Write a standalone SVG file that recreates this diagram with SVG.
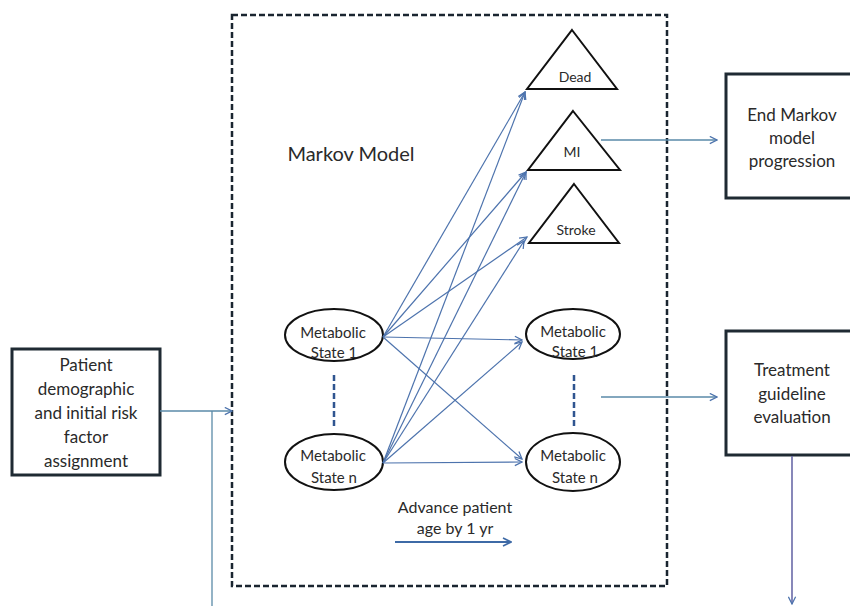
<svg xmlns="http://www.w3.org/2000/svg" width="850" height="606" viewBox="0 0 850 606">
<defs>
<style>
.box{fill:#fff;stroke:#1f2a33;stroke-width:3}
.shape{fill:#fff;stroke:#111;stroke-width:2}
.t{font-family:Lato,"Open Sans","Liberation Sans",sans-serif;fill:#2a2a2a;text-anchor:middle}
.big{font-size:17px}
.sm{font-size:15px}
.c{fill:none;stroke:#4d73ad;stroke-width:1.2}
.ct{fill:none;stroke:#5a8aa8;stroke-width:1.3}
.cv{fill:none;stroke:#6a6aa8;stroke-width:1.6}
</style>
<marker id="ah" viewBox="0 0 10 10" refX="9" refY="5" markerWidth="9" markerHeight="9" markerUnits="userSpaceOnUse" orient="auto">
<path d="M1,1 L9,5 L1,9" fill="none" stroke="#4d73ad" stroke-width="1.4"/>
</marker>
<marker id="ah2" viewBox="0 0 10 10" refX="9" refY="5" markerWidth="10" markerHeight="10" markerUnits="userSpaceOnUse" orient="auto">
<path d="M1,1 L9,5 L1,9" fill="none" stroke="#3e6aa6" stroke-width="1.6"/>
</marker>
</defs>
<rect width="850" height="606" fill="#fff"/>

<g id="markov-frame">
<rect x="232" y="15" width="435" height="571" fill="none" stroke="#1a2530" stroke-width="2.5" stroke-dasharray="6,3"/>
<text class="t" x="351" y="161" style="font-size:20px">Markov Model</text>
</g>

<g id="patient">
<rect class="box" x="12" y="349" width="148" height="126"/>
<text class="t big" x="86" y="371">Patient</text>
<text class="t big" x="86" y="395">demographic</text>
<text class="t big" x="86" y="419">and initial risk</text>
<text class="t big" x="86" y="443">factor</text>
<text class="t big" x="86" y="467">assignment</text>
</g>

<g id="end-markov">
<rect class="box" x="726" y="74" width="140" height="124"/>
<text class="t big" x="792" y="121">End Markov</text>
<text class="t big" x="792" y="144">model</text>
<text class="t big" x="792" y="167">progression</text>
</g>

<g id="treatment">
<rect class="box" x="726" y="331" width="140" height="124"/>
<text class="t big" x="792" y="376">Treatment</text>
<text class="t big" x="792" y="400">guideline</text>
<text class="t big" x="792" y="423">evaluation</text>
</g>

<g id="dead">
<polygon class="shape" points="572,30 617,89 527,89"/>
<text class="t" x="575" y="82" style="font-size:14px">Dead</text>
</g>
<g id="mi">
<polygon class="shape" points="573,111 620,170 528,170"/>
<text class="t" x="572" y="157" style="font-size:14px">MI</text>
</g>
<g id="stroke">
<polygon class="shape" points="574,184 619,243 529,243"/>
<text class="t" x="576" y="235" style="font-size:14px">Stroke</text>
</g>

<g id="state1-left">
<ellipse class="shape" cx="334" cy="335" rx="49" ry="26"/>
<text class="t sm" x="333" y="338">Metabolic</text>
<text class="t sm" x="334" y="358">State 1</text>
</g>
<g id="staten-left">
<ellipse class="shape" cx="334" cy="462" rx="49" ry="28"/>
<text class="t sm" x="333" y="461">Metabolic</text>
<text class="t sm" x="334" y="483">State n</text>
</g>
<g id="state1-right">
<ellipse class="shape" cx="573" cy="334" rx="47" ry="25"/>
<text class="t sm" x="573" y="337">Metabolic</text>
<text class="t sm" x="575" y="357">State 1</text>
</g>
<g id="staten-right">
<ellipse class="shape" cx="573" cy="462" rx="47" ry="29"/>
<text class="t sm" x="573" y="461">Metabolic</text>
<text class="t sm" x="575" y="483">State n</text>
</g>

<g id="advance-label">
<text class="t" x="455" y="513" style="font-size:16px">Advance patient</text>
<text class="t" x="455" y="534" style="font-size:16px">age by 1 yr</text>
</g>

<g id="connectors">
<line x1="334" y1="375" x2="334" y2="426" stroke="#2f5590" stroke-width="2.5" stroke-dasharray="6,3"/>
<line x1="574" y1="375" x2="574" y2="426" stroke="#2f5590" stroke-width="2.5" stroke-dasharray="6,3"/>

<line class="c" x1="383" y1="337" x2="525" y2="92" marker-end="url(#ah)"/>
<line class="c" x1="383" y1="337" x2="526" y2="172" marker-end="url(#ah)"/>
<line class="c" x1="383" y1="337" x2="527" y2="237" marker-end="url(#ah)"/>
<line class="c" x1="383" y1="337" x2="522" y2="340" marker-end="url(#ah)"/>
<line class="c" x1="383" y1="337" x2="522" y2="459" marker-end="url(#ah)"/>

<line class="c" x1="383" y1="463" x2="525" y2="92" marker-end="url(#ah)"/>
<line class="c" x1="383" y1="463" x2="526" y2="172" marker-end="url(#ah)"/>
<line class="c" x1="383" y1="463" x2="524" y2="241" marker-end="url(#ah)"/>
<line class="c" x1="383" y1="463" x2="522" y2="342" marker-end="url(#ah)"/>
<line class="c" x1="383" y1="463" x2="522" y2="462" marker-end="url(#ah)"/>

<line x1="395" y1="542" x2="511" y2="542" stroke="#3e6aa6" stroke-width="2.2" marker-end="url(#ah2)"/>

<line class="ct" x1="160" y1="411" x2="232" y2="411" marker-end="url(#ah)"/>
<line class="ct" x1="212" y1="411" x2="212" y2="606"/>
<line class="ct" x1="601" y1="140" x2="717" y2="140" marker-end="url(#ah)"/>
<line class="ct" x1="601" y1="397" x2="717" y2="397" marker-end="url(#ah)"/>
<line class="cv" x1="792" y1="456" x2="792" y2="604" marker-end="url(#ah)"/>
</g>
</svg>
